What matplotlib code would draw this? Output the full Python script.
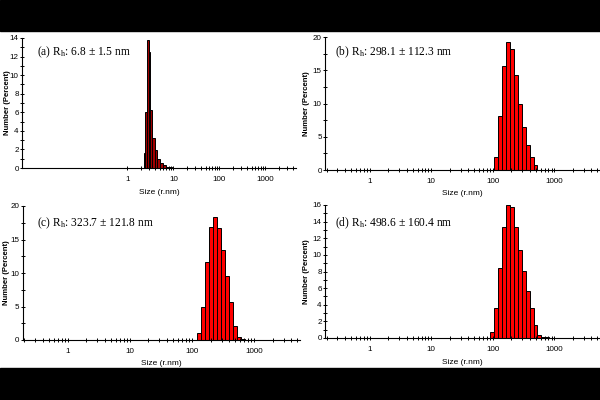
import matplotlib
matplotlib.use("Agg")
import matplotlib.pyplot as plt
import numpy as np
from matplotlib.ticker import FixedLocator, MultipleLocator, NullFormatter
from matplotlib.patches import Rectangle

matplotlib.rcParams['font.family'] = 'Liberation Sans'
matplotlib.rcParams['mathtext.fontset'] = 'custom'
matplotlib.rcParams['mathtext.rm'] = 'Liberation Serif'
matplotlib.rcParams['mathtext.it'] = 'Liberation Serif:italic'

# %% data: bar edges (nm) and heights (Number %)
edges_a = [2.25, 2.38, 2.68, 2.90, 3.16, 3.44, 3.92, 4.49, 5.2, 6.07, 7.05, 8.2, 9.5]
num_a = [1.6, 6.0, 13.8, 12.5, 6.2, 3.2, 1.9, 1.0, 0.55, 0.3, 0.15, 0.06]

edges_b = [105.7, 122.4, 141.8, 164.2, 190.1, 220.2, 255.0, 295.3, 342.0, 396.1, 458.7, 531.2]
num_b = [2.0, 8.1, 15.6, 19.3, 18.2, 14.3, 10.0, 6.5, 3.7, 1.9, 0.7]

edges_c = [122.4, 141.8, 164.2, 190.1, 220.2, 255.0, 295.3, 342.0, 396.1, 458.7, 531.2, 615.1, 712.4]
num_c = [1.0, 5.0, 11.7, 16.9, 18.4, 16.7, 13.4, 9.55, 5.6, 2.1, 0.5, 0.1]

edges_d = [91.28, 105.7, 122.4, 141.8, 164.2, 190.1, 220.2, 255.0, 295.3, 342.0, 396.1,
           458.7, 531.2, 615.1, 712.4, 825.0]
num_d = [0.76, 3.57, 8.47, 13.4, 16.0, 15.7, 13.3, 10.6, 8.1, 5.7, 3.57, 1.56, 0.36, 0.1, 0.1]

labels = [r"(a) R$_\mathrm{h}$: 6.8 ± 1.5 nm",
          r"(b) R$_\mathrm{h}$: 298.1 ± 112.3 nm",
          r"(c) R$_\mathrm{h}$: 323.7 ± 121.8 nm",
          r"(d) R$_\mathrm{h}$: 498.6 ± 160.4 nm"]
xticks = [1, 10, 100, 1000]
xticklabels = ["1", "10", "100", "1000"]

fig = plt.figure(figsize=(6, 4), dpi=100)
fig.patches.append(Rectangle((0, 1 - 31/400), 1, 31/400, transform=fig.transFigure,
                             color='black', zorder=0))
fig.patches.append(Rectangle((0, 0), 1, 32/400, transform=fig.transFigure,
                             color='black', zorder=0))

panels = [
    # rect, edges, values, color, xlim, ymax, major, minor, text pos, ylab x, xlab y
    ([0.037, 0.58, 0.457, 0.325], edges_a, num_a, '#a00000', (0.0052, 4700), 14, 2, 1, (0.055, 0.89), -0.042, -0.16),
    ([0.542, 0.575, 0.458, 0.3325], edges_b, num_b, '#ff0000', (0.19, 5500), 20, 5, 2.5, (0.036, 0.887), -0.055, -0.15),
    ([0.038, 0.15, 0.462, 0.335], edges_c, num_c, '#ff0000', (0.19, 5500), 20, 5, 2.5, (0.05, 0.873), -0.045, -0.15),
    ([0.542, 0.155, 0.458, 0.3325], edges_d, num_d, '#ff0000', (0.19, 5500), 16, 2, 1, (0.036, 0.865), -0.055, -0.158),
]

for i, (rect, edges, vals, col, xlim, ymax, major, minor, tpos, ylx, xly) in enumerate(panels):
    ax = fig.add_axes(rect)
    e = np.array(edges)
    ax.bar(e[:-1], vals, width=np.diff(e), align='edge', color=col,
           edgecolor='black', linewidth=0.7)
    ax.set_xscale('log')
    ax.set_xlim(*xlim)
    ax.set_ylim(0, ymax)
    for s in ['top', 'right']:
        ax.spines[s].set_visible(False)
    ax.spines['left'].set_linewidth(0.8)
    ax.spines['bottom'].set_linewidth(0.8)
    ax.xaxis.set_major_locator(FixedLocator(xticks))
    ax.set_xticklabels(xticklabels)
    if i == 0:
        minors = [m * 10.0**k for k in range(0, 4) for m in range(2, 10)]
    else:
        minors = [m * 10.0**k for k in range(-1, 4) for m in range(2, 10)]
    ax.xaxis.set_minor_locator(FixedLocator(minors))
    ax.xaxis.set_minor_formatter(NullFormatter())
    ax.yaxis.set_major_locator(MultipleLocator(major))
    ax.yaxis.set_minor_locator(MultipleLocator(minor))
    ax.tick_params(axis='both', which='both', direction='inout', length=3, width=0.7,
                   labelsize=5.8, pad=1)
    ax.tick_params(axis='x', which='both', pad=4)
    ax.set_ylabel("Number (Percent)", fontsize=5.6, fontweight='bold')
    ax.yaxis.set_label_coords(ylx, 0.5)
    ax.set_xlabel("Size (r.nm)", fontsize=6)
    ax.xaxis.set_label_coords(0.5, xly)
    ax.text(tpos[0], tpos[1], labels[i], transform=ax.transAxes, fontsize=8.3,
            family='Liberation Serif', va='center', ha='left')

plt.savefig("out.png", dpi=100)
